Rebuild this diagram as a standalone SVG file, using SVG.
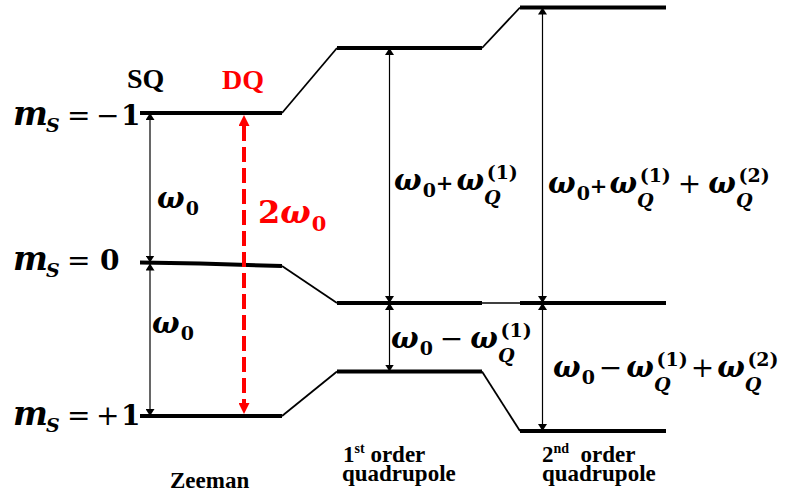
<svg xmlns="http://www.w3.org/2000/svg" width="787" height="501" viewBox="0 0 787 501">
<style>
.lvl{stroke:#000;stroke-width:4;fill:none}
.cn{stroke:#000;stroke-width:1.8;fill:none}
.ar{stroke:#000;stroke-width:1.2;fill:none;marker-start:url(#bk);marker-end:url(#bk)}
.dq{stroke:#ff0000;stroke-width:4;stroke-dasharray:15 6;fill:none;marker-start:url(#rd);marker-end:url(#rd)}
.lab{font-family:"Liberation Serif","Times New Roman",serif;font-weight:bold;fill:#000}
.m{font-family:"DejaVu Serif","Liberation Serif",serif;fill:#000}
.bi{font-weight:bold;font-style:italic;font-size:29px}
.mm{font-weight:bold;font-style:italic;font-size:33px}
.sbi{font-weight:bold;font-style:italic;font-size:19px}
.sb{font-weight:bold;font-style:normal;font-size:19px}
.op{font-weight:normal;font-style:normal;font-size:28px}
.sop{font-weight:bold;font-style:normal;font-size:21px}
.num{font-weight:bold;font-style:normal;font-size:28px}
.red tspan{fill:#ff0000}
</style>
<defs>
<marker id="bk" viewBox="0 0 10 10" refX="10" refY="5" markerWidth="7" markerHeight="9" markerUnits="userSpaceOnUse" orient="auto-start-reverse" preserveAspectRatio="none"><path d="M0,0 L10,5 L0,10 z" fill="#000"/></marker>
<marker id="rd" viewBox="0 0 10 10" refX="0" refY="5" markerWidth="11" markerHeight="11" markerUnits="userSpaceOnUse" orient="auto-start-reverse" preserveAspectRatio="none"><path d="M0,0 L10,5 L0,10 z" fill="#ff0000"/></marker>
</defs>

<g id="zeeman">
<line class="lvl" x1="140" y1="113" x2="282" y2="113"/>
<polyline class="lvl" points="140,262.5 200,263.5 282,266"/>
<line class="lvl" x1="140" y1="416" x2="282" y2="416"/>
</g>
<g id="first-order">
<line class="lvl" x1="337" y1="48" x2="482" y2="48"/>
<line class="lvl" x1="337" y1="303" x2="482" y2="303"/>
<line class="lvl" x1="337" y1="371.5" x2="482" y2="371.5"/>
</g>
<g id="second-order">
<line class="lvl" x1="520" y1="7.5" x2="666" y2="7.5"/>
<line class="lvl" x1="520" y1="303" x2="666" y2="303"/>
<line class="lvl" x1="520" y1="431" x2="666" y2="431"/>
</g>

<g id="connectors">
<line class="cn" x1="282" y1="113" x2="337" y2="48"/>
<line class="cn" x1="282" y1="266" x2="337" y2="303"/>
<line class="cn" x1="282" y1="416" x2="337" y2="371.5"/>
<line class="cn" x1="482" y1="48" x2="520" y2="7.5"/>
<line class="cn" x1="482" y1="303" x2="520" y2="303" style="stroke-width:1.3"/>
<line class="cn" x1="482" y1="371.5" x2="520" y2="431"/>
<line class="ar" x1="150" y1="113" x2="150" y2="262.5"/>
<line class="ar" x1="150" y1="263.5" x2="150" y2="416"/>
<line class="ar" x1="389.5" y1="48" x2="389.5" y2="303"/>
<line class="ar" x1="389.5" y1="303" x2="389.5" y2="371.5"/>
<line class="ar" x1="542.5" y1="7.5" x2="542.5" y2="303"/>
<line class="ar" x1="542.5" y1="303" x2="542.5" y2="431"/>
<line class="dq" x1="244" y1="126" x2="244" y2="403"/>
</g>

<g id="state-labels">
<text class="m"><tspan class="mm" x="13" y="125">m</tspan><tspan class="sbi" x="46" y="132">S</tspan><tspan class="op" x="67" y="125">=</tspan><tspan class="op" x="96" y="125">−</tspan><tspan class="num" x="121" y="125">1</tspan></text>
<text class="m"><tspan class="mm" x="13" y="270">m</tspan><tspan class="sbi" x="46" y="277">S</tspan><tspan class="op" x="67" y="270">=</tspan><tspan class="num" x="100" y="270">0</tspan></text>
<text class="m"><tspan class="mm" x="13" y="425">m</tspan><tspan class="sbi" x="46" y="432">S</tspan><tspan class="op" x="67" y="425">=</tspan><tspan class="op" x="96" y="425">+</tspan><tspan class="num" x="121" y="425">1</tspan></text>
</g>

<g id="titles">
<text class="lab" x="127" y="88" font-size="28">SQ</text>
<text class="lab" x="222" y="89" font-size="28" style="fill:#ff0000">DQ</text>
<text class="lab" x="170" y="488" font-size="23">Zeeman</text>
<text class="lab" x="343" y="462" font-size="23">1<tspan font-size="14" dy="-9">st</tspan><tspan dy="9"> order</tspan></text>
<text class="lab" x="342" y="481" font-size="23">quadrupole</text>
<text class="lab" x="542" y="462" font-size="23" xml:space="preserve">2<tspan font-size="14" dy="-9">nd</tspan><tspan dy="9">  order</tspan></text>
<text class="lab" x="542" y="481" font-size="23">quadrupole</text>
</g>

<g id="energy-labels">
<text class="m" x="157" y="208"><tspan class="bi">ω</tspan><tspan class="sb" dx="1" dy="7">0</tspan></text>
<text class="m" x="152" y="333"><tspan class="bi">ω</tspan><tspan class="sb" dx="1" dy="7">0</tspan></text>
<text class="m red" x="258" y="223"><tspan class="num" style="font-size:32px">2</tspan><tspan class="bi" style="font-size:32px">ω</tspan><tspan class="sb" dx="1" dy="8" style="font-size:21px">0</tspan></text>

<text class="m" x="394" y="190"><tspan class="bi">ω</tspan><tspan class="sb" dx="1" dy="7">0</tspan><tspan class="sop" dy="-7">+</tspan><tspan class="bi" dx="3">ω</tspan><tspan class="sbi" dy="14">Q</tspan><tspan class="sb" dx="-14" dy="-25">(1)</tspan></text>

<text class="m" x="548" y="193"><tspan class="bi">ω</tspan><tspan class="sb" dx="1" dy="7">0</tspan><tspan class="sop" dy="-7">+</tspan><tspan class="bi" dx="2">ω</tspan><tspan class="sbi" dy="14">Q</tspan><tspan class="sb" dx="-14" dy="-25">(1)</tspan><tspan class="op" dx="7" dy="11">+</tspan><tspan class="bi" dx="7">ω</tspan><tspan class="sbi" dy="14">Q</tspan><tspan class="sb" dx="-14" dy="-25">(2)</tspan></text>

<text class="m" x="391" y="348"><tspan class="bi">ω</tspan><tspan class="sb" dx="1" dy="7">0</tspan><tspan class="op" dx="7" dy="-7">−</tspan><tspan class="bi" dx="7">ω</tspan><tspan class="sbi" dy="14">Q</tspan><tspan class="sb" dx="-14" dy="-25">(1)</tspan></text>

<text class="m" x="553" y="377"><tspan class="bi">ω</tspan><tspan class="sb" dx="1" dy="7">0</tspan><tspan class="op" dx="4" dy="-7">−</tspan><tspan class="bi" dx="4">ω</tspan><tspan class="sbi" dy="14">Q</tspan><tspan class="sb" dx="-14" dy="-25">(1)</tspan><tspan class="op" dx="3" dy="11">+</tspan><tspan class="bi" dx="3">ω</tspan><tspan class="sbi" dy="14">Q</tspan><tspan class="sb" dx="-14" dy="-25">(2)</tspan></text>
</g>
</svg>
